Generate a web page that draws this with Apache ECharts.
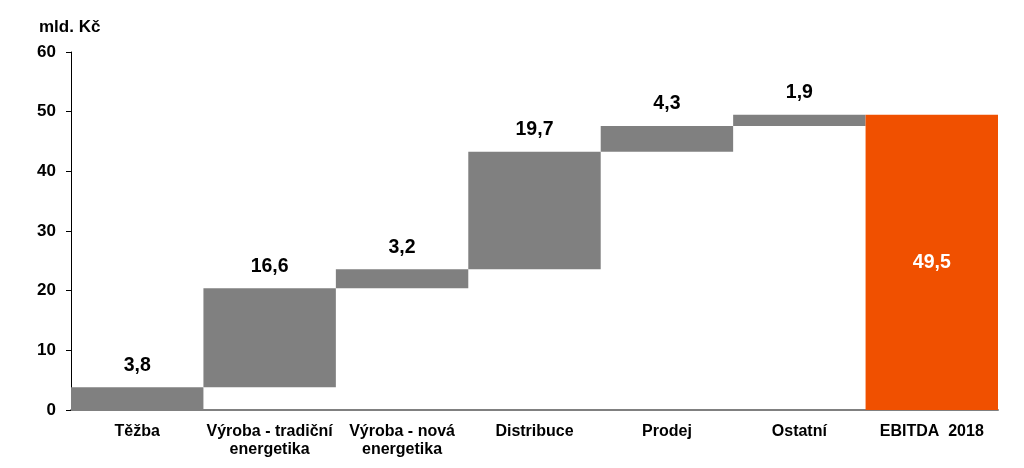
<!DOCTYPE html>
<html>
<head>
<meta charset="utf-8">
<script src="https://cdn.jsdelivr.net/npm/echarts@6/dist/echarts.min.js"></script>
<style>
  html, body { margin: 0; padding: 0; background: #fff; }
  #main { width: 1024px; height: 468px; }
</style>
</head>
<body>
<div id="main"></div>
<script>
var categories = ['Těžba', 'Výroba - tradiční\nenergetika', 'Výroba - nová\nenergetika', 'Distribuce', 'Prodej', 'Ostatní', 'EBITDA  2018'];
// příspěvky jednotlivých segmentů (mld. Kč)
var increments = [3.8, 16.6, 3.2, 19.7, 4.3, 1.9];
var total = 49.5;

// neviditelný podklad pro vodopád
var base = [];
var run = 0;
for (var i = 0; i < increments.length; i++) {
  base.push(run);
  run += increments[i];
}
base.push(0);

var visible = increments.map(function (v) {
  return { value: v, itemStyle: { color: '#808080' } };
});
visible.push({
  value: total,
  itemStyle: { color: '#F05000' },
  label: { position: 'inside', color: '#fff' }
});

var fmt = function (p) { return String(p.value).replace('.', ','); };

var myChart = echarts.init(document.getElementById('main'));
myChart.setOption({
  animation: false,
  textStyle: { fontFamily: 'Liberation Sans, Arial, sans-serif' },
  title: {
    text: 'mld. Kč',
    left: 34,
    top: 14,
    textStyle: { fontSize: 17, fontWeight: 'bold', color: '#000' }
  },
  grid: { left: 71, right: 26, top: 52, bottom: 58 },
  xAxis: {
    type: 'category',
    data: categories,
    axisLine: { lineStyle: { color: '#808080', width: 2 } },
    axisTick: { show: false },
    axisLabel: {
      interval: 0,
      color: '#000',
      fontSize: 16,
      fontWeight: 'bold',
      lineHeight: 18,
      margin: 13
    }
  },
  yAxis: {
    type: 'value',
    min: 0,
    max: 60,
    interval: 10,
    splitLine: { show: false },
    axisLine: { show: true, lineStyle: { color: '#000', width: 1 } },
    axisTick: { show: true, length: 5, lineStyle: { color: '#000' } },
    axisLabel: { color: '#000', fontSize: 17, fontWeight: 'bold', margin: 15 }
  },
  series: [
    {
      type: 'bar',
      stack: 'w',
      data: base,
      itemStyle: { color: 'transparent' },
      silent: true,
      barCategoryGap: 0
    },
    {
      type: 'bar',
      stack: 'w',
      data: visible,
      barCategoryGap: 0,
      label: {
        show: true,
        position: 'top',
        distance: 12,
        color: '#000',
        fontSize: 19.5,
        fontWeight: 'bold',
        formatter: fmt
      }
    }
  ]
});
</script>
</body>
</html>
